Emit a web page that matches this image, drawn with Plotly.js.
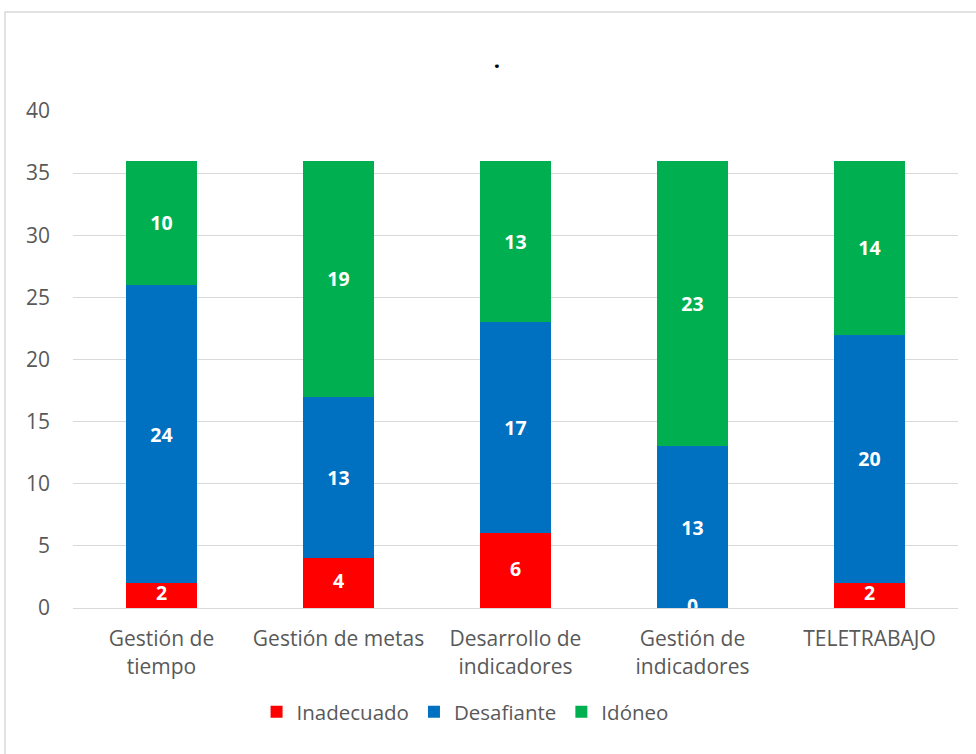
<!DOCTYPE html>
<html>
<head>
<meta charset="utf-8">
<script src="https://cdn.plot.ly/plotly-3.0.1.min.js"></script>
<style>
html,body{margin:0;padding:0;background:#fff;}
#chart{width:976px;height:754px;}
</style>
</head>
<body>
<div id="chart"></div>
<script>
const categories = ["Gestión de<br>tiempo", "Gestión de metas", "Desarrollo de<br>indicadores", "Gestión de<br>indicadores", "TELETRABAJO"];
const inadecuado = [2, 4, 6, 0, 2];
const desafiante = [24, 13, 17, 13, 20];
const idoneo = [10, 19, 13, 23, 14];
const seriesNames = ["Inadecuado", "Desafiante", "Idóneo"];
const yTicks = [0, 5, 10, 15, 20, 25, 30, 35, 40];

const FONT = "Open Sans, Liberation Sans, sans-serif";
const labelFont = {family: FONT, size: 19.5, color: "#ffffff", weight: "bold"};

const traces = [
  {type: "bar", name: seriesNames[0], x: categories, y: inadecuado, marker: {color: "#ff0000"},
   textposition: "none", hoverinfo: "skip"},
  {type: "bar", name: seriesNames[1], x: categories, y: desafiante, marker: {color: "#0070c0"},
   text: desafiante.map(String), textposition: "inside", insidetextanchor: "middle",
   insidetextfont: labelFont, textangle: 0},
  {type: "bar", name: seriesNames[2], x: categories, y: idoneo, marker: {color: "#00b050"},
   text: idoneo.map(String), textposition: "inside", insidetextanchor: "middle",
   insidetextfont: labelFont, textangle: 0},
  {type: "scatter", mode: "text", x: categories, y: inadecuado.map(v => v / 2),
   text: inadecuado.map(String), textfont: labelFont, textposition: "middle center",
   showlegend: false, cliponaxis: true, hoverinfo: "skip"}
];

const layout = {
  width: 976, height: 754,
  margin: {l: 73, r: 18, t: 111, b: 146},
  paper_bgcolor: "#ffffff", plot_bgcolor: "#ffffff",
  barmode: "stack", bargap: 0.6,
  title: {text: "<b>.</b>", x: 0.479, xref: "paper", xanchor: "center", y: 0.92, yanchor: "middle",
          font: {family: FONT, size: 22, color: "#000000"}},
  font: {family: FONT, color: "#595959", size: 19},
  uniformtext: {minsize: 19.5, mode: "show"},
  xaxis: {type: "category", showgrid: false, showline: true, linecolor: "#d9d9d9", linewidth: 1,
          ticks: "", tickfont: {family: FONT, size: 21, color: "#595959"}, ticklabelstandoff: 12},
  yaxis: {range: [0, 40], tickvals: yTicks, ticktext: yTicks.map(String), showgrid: true,
          gridcolor: "#d9d9d9", gridwidth: 1, zeroline: true, zerolinecolor: "#d9d9d9",
          showline: false, ticks: "", tickfont: {family: FONT, size: 21, color: "#595959"},
          ticklabelstandoff: 22},
  showlegend: true,
  legend: {orientation: "h", x: 0.443, xanchor: "center", y: -0.209, yanchor: "middle",
           font: {family: FONT, size: 20.5, color: "#595959"}, itemwidth: 30, traceorder: "normal"},
  shapes: [{type: "rect", xref: "paper", yref: "paper", x0: (5 - 73) / 885, x1: 1.2,
            y0: -0.5, y1: (608 - 12) / 497, line: {color: "#d9d9d9", width: 1.5}, layer: "below"}]
};

Plotly.newPlot("chart", traces, layout, {displayModeBar: false, staticPlot: true});
</script>
</body>
</html>
